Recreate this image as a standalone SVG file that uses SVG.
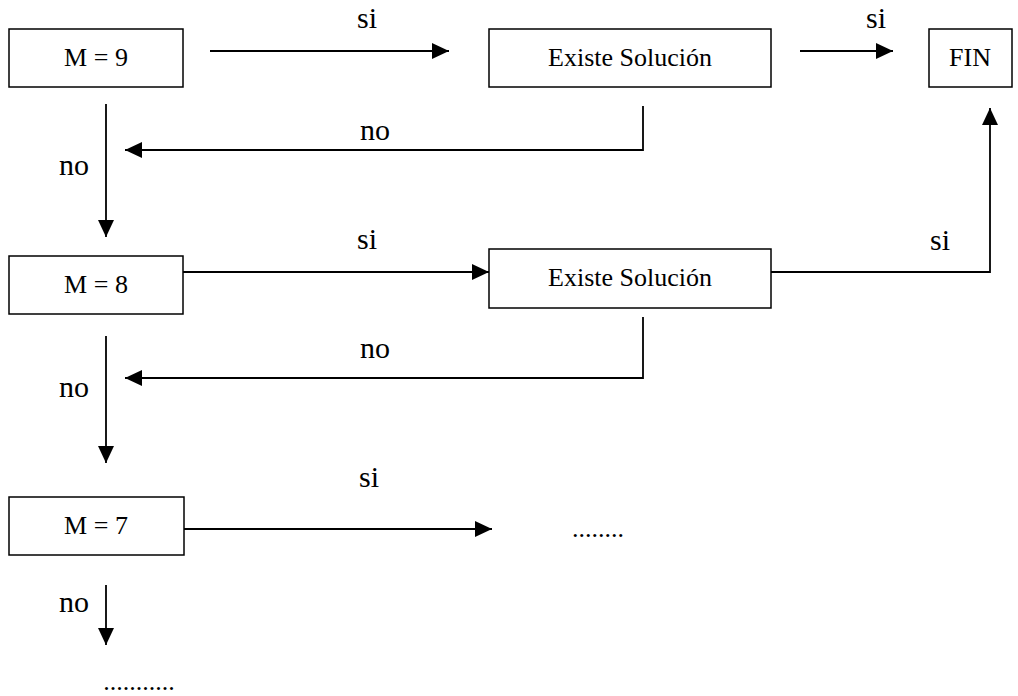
<svg xmlns="http://www.w3.org/2000/svg" width="1018" height="696" viewBox="0 0 1018 696">
<style>
.box{fill:#fff;stroke:#000;stroke-width:1.5}
.t{font-family:'Liberation Serif','Times New Roman','DejaVu Serif',serif;font-size:26px;fill:#000;text-anchor:middle}
.lbl{font-family:'Liberation Serif','Times New Roman','DejaVu Serif',serif;font-size:30px;fill:#000;text-anchor:middle}
.c{fill:none;stroke:#000;stroke-width:1.8}
.a{marker-end:url(#ah)}
</style>
<defs>
<marker id="ah" markerUnits="userSpaceOnUse" markerWidth="18" markerHeight="17" refX="17" refY="8" orient="auto">
<path d="M0,0 L17,8 L0,16 z" fill="#000"/>
</marker>
</defs>
<rect width="1018" height="696" fill="#fff"/>
<g id="connectors">
<line class="c a" x1="210" y1="51" x2="449" y2="51"/>
<line class="c a" x1="800" y1="51" x2="893" y2="51"/>
<polyline class="c a" points="643,106 643,150 125,150"/>
<line class="c a" x1="106" y1="104" x2="106" y2="237"/>
<line class="c a" x1="183" y1="272" x2="489" y2="272"/>
<polyline class="c a" points="771,272 990,272 990,108"/>
<polyline class="c a" points="643,317 643,378 125,378"/>
<line class="c a" x1="106" y1="336" x2="106" y2="463"/>
<line class="c a" x1="184" y1="529" x2="492" y2="529"/>
<line class="c a" x1="106" y1="585" x2="106" y2="645"/>
</g>
<g id="labels">
<text class="lbl" x="367" y="28">si</text>
<text class="lbl" x="876" y="28">si</text>
<text class="lbl" x="375" y="140">no</text>
<text class="lbl" x="74" y="175">no</text>
<text class="lbl" x="367" y="249">si</text>
<text class="lbl" x="940" y="250">si</text>
<text class="lbl" x="375" y="358">no</text>
<text class="lbl" x="74" y="397">no</text>
<text class="lbl" x="369" y="487">si</text>
<text class="lbl" x="74" y="612">no</text>
<text class="t" x="598" y="537">........</text>
<text class="t" x="139" y="690">...........</text>
</g>
<g id="m9">
<rect class="box" x="9" y="29" width="174" height="58"/>
<text class="t" x="96" y="66">M = 9</text>
</g>
<g id="existe1">
<rect class="box" x="489" y="29" width="282" height="58"/>
<text class="t" x="630" y="66">Existe Solución</text>
</g>
<g id="fin">
<rect class="box" x="929" y="29" width="83" height="58"/>
<text class="t" x="970" y="66">FIN</text>
</g>
<g id="m8">
<rect class="box" x="9" y="256" width="174" height="58"/>
<text class="t" x="96" y="293">M = 8</text>
</g>
<g id="existe2">
<rect class="box" x="489" y="249" width="282" height="59"/>
<text class="t" x="630" y="286">Existe Solución</text>
</g>
<g id="m7">
<rect class="box" x="9" y="497" width="175" height="58"/>
<text class="t" x="96" y="534">M = 7</text>
</g>
</svg>
